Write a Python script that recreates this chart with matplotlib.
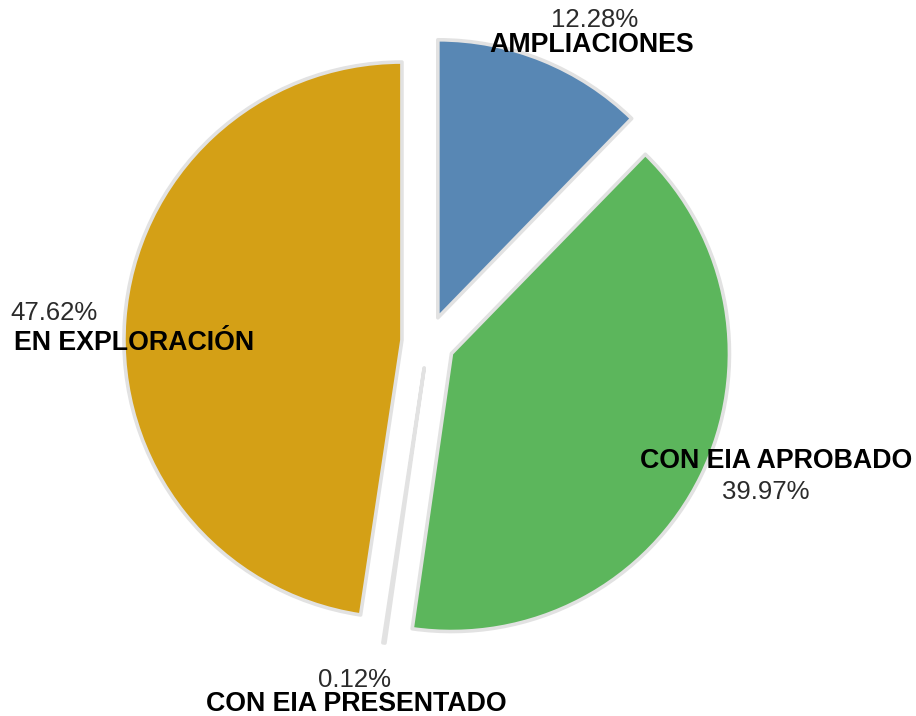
import matplotlib.pyplot as plt

plt.rcParams['font.family'] = ['Liberation Sans', 'DejaVu Sans']

# datos
categorias = ["AMPLIACIONES", "CON EIA APROBADO", "CON EIA PRESENTADO", "EN EXPLORACIÓN"]
porcentajes = [12.28, 39.97, 0.12, 47.62]
colores = ["#5887b4", "#5cb65c", "#dcdcdc", "#d4a016"]

# posicion de etiquetas (unidades del eje, radio = 1)
pos_pct = [(0.601, 1.158), (1.216, -0.540), (-0.263, -1.216), (-1.345, 0.104)]
pos_cat = [(0.590, 1.068), (1.252, -0.428), (-0.259, -1.302), (-1.058, -0.004)]

R_PX = 278.0
CX, CY = 428.0, 342.0
W, H = 916, 716

fig = plt.figure(figsize=(W / 100, H / 100), dpi=100)
ax = fig.add_axes([0, 0, 1, 1])

wedges, _ = ax.pie(
    porcentajes,
    colors=colores,
    explode=[0.094] * len(porcentajes),
    startangle=90,
    counterclock=False,
    radius=1.0,
    wedgeprops=dict(edgecolor="#e2e2e2", linewidth=2.6, joinstyle="round"),
)

for (px, py), txt in zip(pos_pct, porcentajes):
    ax.text(px, py, f"{txt:.2f}%", ha="center", va="center",
            fontsize=18.5, color="#2b2b2b")
for (px, py), cat in zip(pos_cat, categorias):
    ax.text(px, py, cat, ha="center", va="center",
            fontsize=19.3, fontweight="bold", color="black")

ax.set_xlim(-CX / R_PX, (W - CX) / R_PX)
ax.set_ylim(-(H - CY) / R_PX, CY / R_PX)
ax.set_aspect("equal")
ax.axis("off")

fig.savefig("out.png", dpi=100, facecolor="white")
